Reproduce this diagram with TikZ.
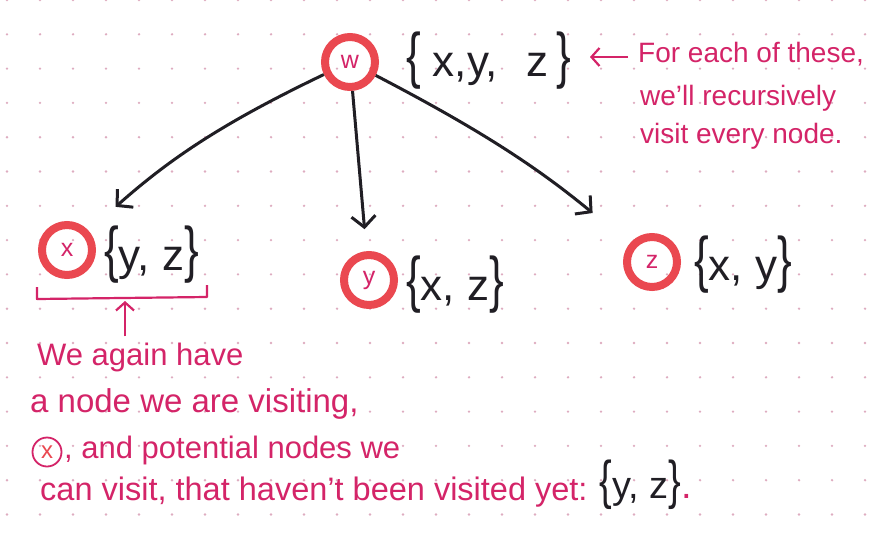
\documentclass[tikz,border=0pt]{standalone}
\usepackage{fontspec}
\setmainfont{Liberation Sans}
\usetikzlibrary{arrows.meta, calc}
\definecolor{ring}{RGB}{234,72,80}
\definecolor{ink}{RGB}{212,36,104}
\definecolor{dotc}{RGB}{222,172,192}
\definecolor{pen}{RGB}{32,30,36}
\newcommand{\nodeset}[1]{
    % #1: members of the set, between tall braces
    \scalebox{1}[1.4]{\{}#1\scalebox{1}[1.4]{\}}%
}
\newcommand{\dotgrid}{
    \fill[white] (0,0) rectangle (880,538);
    \foreach \i in {0,...,26}
        \foreach \j in {0,...,15}
            \fill[dotc] (7+33*\i, 34.3*\j) circle (1.3pt);
}

\begin{document}
\begin{tikzpicture}[x=1pt, y=-1pt]
    % nodes we visit
    \tikzstyle{visit}=[circle, draw=ring, line width=8pt, minimum size=50pt, inner sep=0, text=ink, font=\fontsize{25}{25}\selectfont]
    % small circled node inside the note
    \tikzstyle{ringmark}=[circle, draw=ink, line width=1.8pt, minimum size=29pt, inner sep=0, text=ring, font=\fontsize{24}{24}\selectfont]
    % sets of nodes still to visit
    \tikzstyle{set}=[inner sep=0, anchor=west, text=pen, font=\fontsize{44}{48}\selectfont]
    \tikzstyle{note}=[inner sep=0, anchor=base west, text=ink, font=\fontsize{31}{40}\selectfont]
    \tikzstyle{edge}=[line width=3pt, draw=pen, -{Straight Barb[length=11pt, width=24pt]}]
    \tikzstyle{hint}=[line width=2.2pt, draw=ink, -{Straight Barb[length=8pt, width=18pt]}]
    \useasboundingbox (0,0) rectangle (880,538);
    \dotgrid
    % start node and its neighbours
    \node[visit] (W) at (350,62) {w};
    \node[visit] (X) at (67,250) {x};
    \node[visit] (Y) at (369,280) {y};
    \node[visit] (Z) at (652,262) {z};
    \draw[edge, shorten >=36pt] (W) to[bend right=8] (X);
    \draw[edge, shorten >=22pt] (W) -- (Y);
    \draw[edge, shorten >=48pt] (W) to[bend left=6] (Z);
    % what is left to visit from each node
    \node[set] (WS) at (406,61) {\nodeset{\hspace{12pt}x,y,\hspace{28pt}z\hspace{8pt}}};
    \node[set] (XS) at (104,255) {\nodeset{y, z}};
    \node[set] (YS) at (406,285) {\nodeset{x, z}};
    \node[set] (ZS) at (694,265) {\nodeset{x, y}};
    % note on the right
    \node[note, font=\fontsize{28}{36}\selectfont] (each) at (638,62) {For each of these,};
    \node[note, font=\fontsize{28}{36}\selectfont] (each2) at (640,105) {we'll recursively};
    \node[note, font=\fontsize{28}{36}\selectfont] (each3) at (640,143) {visit every node.};
    \coordinate (tip) at (590,57);
    \draw[hint, shorten <=10pt] (each.west |- tip) -- (tip);
    % bracket under x and its set
    \draw[ink, line width=2.2pt, line join=round] (37,287) -- (37,299) -- (207,297) -- (207,285);
    \coordinate (BM) at (125,301);
    % note below
    \node[note] (again) at (37,365) {We again have};
    \node[note, font=\fontsize{33}{40}\selectfont] (again2) at (30,412) {a node we are visiting,};
    \node[ringmark] (XM) at (47,452) {x};
    \node[note] (again3) at (64,458) {, and potential nodes we};
    \node[note, font=\fontsize{32.5}{40}\selectfont] (again4) at (40,500) {can visit, that haven't been visited yet:};
    \node[set, anchor=base west, font=\fontsize{38}{40}\selectfont] (YZ) at ($(again4.base east)+(12,-2)$) {\nodeset{y, z}\textcolor{ink}{.}};
    \draw[hint, shorten <=6pt] (again.north -| BM) -- (BM);
\end{tikzpicture}
\end{document}
